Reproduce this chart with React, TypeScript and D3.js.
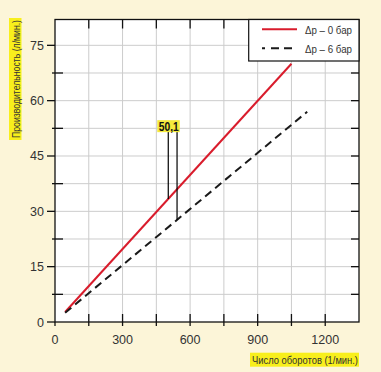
import React from "react";
import * as d3 from "d3";

// серии: Δp = 0 бар и Δp = 6 бар
const rpm0 = [45, 1050];
const flow0 = [2.7, 70];
const rpm6 = [45, 1120];
const flow6 = [2.5, 57];

const legendLabels = ["Δp – 0 бар", "Δp – 6 бар"];

const xTicks = [0, 150, 300, 450, 600, 750, 900, 1050, 1200, 1350];
const xLabels = [0, 300, 600, 900, 1200];
const yTicks = [0, 7.5, 15, 22.5, 30, 37.5, 45, 52.5, 60, 67.5, 75];
const yLabels = [0, 15, 30, 45, 60, 75];

// выноска
const annoText = "50,1";
const annoRpm = [503, 542];
const annoTop = 52;

const xTitle = "Число оборотов (1/мин.)";
const yTitle = "Производительность (л/мин.)";

const W = 381;
const H = 372;
const margin = { top: 19.5, right: 22, bottom: 50, left: 55 };

const App: React.FC = () => {
    const x = d3
        .scaleLinear()
        .domain([0, 1350])
        .range([margin.left, W - margin.right]);
    const y = d3
        .scaleLinear()
        .domain([0, 82])
        .range([H - margin.bottom, margin.top]);

    const line = d3
        .line<[number, number]>()
        .x((d) => x(d[0]))
        .y((d) => y(d[1]));

    const d0 = rpm0.map((r, i) => [r, flow0[i]] as [number, number]);
    const d6 = rpm6.map((r, i) => [r, flow6[i]] as [number, number]);

    // значения на линиях для выноски
    const f0 = d3.scaleLinear().domain(rpm0).range(flow0);
    const f6 = d3.scaleLinear().domain(rpm6).range(flow6);

    const x0 = margin.left;
    const x1 = W - margin.right;
    const y0 = H - margin.bottom;
    const y1 = margin.top;

    const font = "'Liberation Sans Narrow', 'Liberation Sans', Arial, sans-serif";

    return (
        <svg
            width={W}
            height={H}
            style={{ position: "absolute", left: 0, top: 0 }}
            fontFamily={font}
        >
            <rect x={0} y={0} width={W} height={H} fill="#fcf5d8" />
            <rect x={x0} y={y1} width={x1 - x0} height={y0 - y1} fill="#ffffff" />

            {/* сетка */}
            {xTicks.slice(1, -1).map((t) => (
                <line key={"gx" + t} x1={x(t)} x2={x(t)} y1={y0} y2={y1} stroke="#cccccc" strokeWidth={1} />
            ))}
            {yTicks.slice(1).map((t) => (
                <line key={"gy" + t} x1={x0} x2={x1} y1={y(t)} y2={y(t)} stroke="#cccccc" strokeWidth={1} />
            ))}

            {/* рамка и деления */}
            <rect x={x0} y={y1} width={x1 - x0} height={y0 - y1} fill="none" stroke="#111" strokeWidth={1.3} />
            {xTicks.slice(1, -1).map((t) => (
                <g key={"tx" + t} stroke="#111" strokeWidth={1.3}>
                    <line x1={x(t)} x2={x(t)} y1={y0 - 8} y2={y0 + 4} />
                    <line x1={x(t)} x2={x(t)} y1={y1} y2={y1 + 9} />
                </g>
            ))}
            <line x1={x0} x2={x0} y1={y0} y2={y0 + 4} stroke="#111" strokeWidth={1.3} />
            {yTicks.slice(1).map((t) => (
                <g key={"ty" + t} stroke="#111" strokeWidth={1.3}>
                    {yLabels.includes(t) ? (
                        <line x1={x0 - 8} x2={x0} y1={y(t)} y2={y(t)} />
                    ) : (
                        <line x1={x0 - 3} x2={x0 + 8} y1={y(t)} y2={y(t)} />
                    )}
                    <line x1={x1 - 8} x2={x1} y1={y(t)} y2={y(t)} />
                </g>
            ))}
            <line x1={x0 - 8} x2={x0} y1={y0} y2={y0} stroke="#111" strokeWidth={1.3} />

            {/* подписи делений */}
            {xLabels.map((t) => (
                <text key={"lx" + t} x={x(t)} y={y0 + 22} textAnchor="middle" fontSize={12.5} fill="#333"
                    style={{ fontStretch: "condensed" }}>
                    {t}
                </text>
            ))}
            {yLabels.map((t) => (
                <text key={"ly" + t} x={x0 - 11} y={y(t) + 4.5} textAnchor="end" fontSize={12.5} fill="#333"
                    style={{ fontStretch: "condensed" }}>
                    {t}
                </text>
            ))}

            {/* линии */}
            <path d={line(d0) ?? ""} fill="none" stroke="#d91c2c" strokeWidth={2} />
            <path d={line(d6) ?? ""} fill="none" stroke="#1a1a1a" strokeWidth={2} strokeDasharray="8,5" />

            {/* выноска 50,1 */}
            <line x1={x(annoRpm[0])} x2={x(annoRpm[0])} y1={y(annoTop)} y2={y(f0(annoRpm[0]))} stroke="#000" strokeWidth={1.2} />
            <line x1={x(annoRpm[1])} x2={x(annoRpm[1])} y1={y(annoTop)} y2={y(f6(annoRpm[1]))} stroke="#000" strokeWidth={1.2} />
            <rect x={x(annoRpm[0]) - 11} y={y(annoTop) - 10} width={22.5} height={12} fill="#f5ea3c" />
            <text x={x(annoRpm[0]) + 0.5} y={y(annoTop) + 0.5} textAnchor="middle" fontSize={12} fontWeight="bold" fill="#111"
                fontFamily="'Liberation Sans', Arial, sans-serif" textLength={20} lengthAdjust="spacingAndGlyphs">
                {annoText}
            </text>

            {/* легенда */}
            <rect x={248.7} y={y1} width={x1 - 248.7} height={41.5} fill="#fff" stroke="#111" strokeWidth={1.2} />
            <line x1={262} x2={297} y1={29.3} y2={29.3} stroke="#d91c2c" strokeWidth={2} />
            <line x1={262} x2={297} y1={48.3} y2={48.3} stroke="#1a1a1a" strokeWidth={2} strokeDasharray="3,6,8,5,8,5" />
            {legendLabels.map((l, i) => (
                <text key={l} x={305} y={33.5 + i * 19} fontSize={11.5} fill="#333" textLength={47} lengthAdjust="spacingAndGlyphs">
                    {l}
                </text>
            ))}

            {/* названия осей */}
            <rect x={250} y={352.7} width={109} height={14} fill="#f8ef1c" />
            <text x={x1 - 1} y={363.5} textAnchor="end" fontSize={11} fill="#333" textLength={106} lengthAdjust="spacingAndGlyphs">
                {xTitle}
            </text>
            <rect x={9} y={18} width={12.5} height={122} fill="#f8ef1c" />
            <text transform="translate(19.5,79) rotate(-90)" textAnchor="middle" fontSize={10.5} fill="#333"
                textLength={118} lengthAdjust="spacingAndGlyphs">
                {yTitle}
            </text>
        </svg>
    );
};

export default App;
